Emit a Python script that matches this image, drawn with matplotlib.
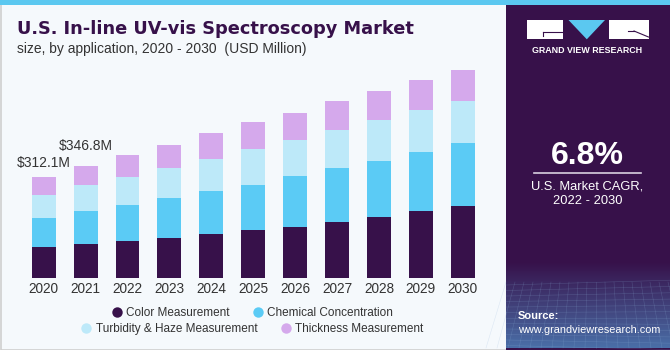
import matplotlib
matplotlib.use("Agg")
import matplotlib.pyplot as plt
import numpy as np
from matplotlib.patches import Rectangle, Polygon
from matplotlib.lines import Line2D

plt.rcParams['font.family'] = ['Liberation Sans', 'DejaVu Sans']

years = ["2020", "2021", "2022", "2023", "2024", "2025", "2026", "2027", "2028", "2029", "2030"]
series_names = ["Color Measurement", "Chemical Concentration",
                "Turbidity & Haze Measurement", "Thickness Measurement"]
color_meas = [95.2, 106.0, 114.9, 123.2, 135.5, 147.8, 158.9, 174.3, 188.8, 207.3, 222.7]
chemical = [91.0, 101.0, 110.9, 123.2, 132.4, 140.4, 155.2, 164.5, 173.4, 182.6, 193.1]
turbidity = [69.7, 80.3, 86.2, 92.4, 99.5, 110.0, 111.8, 118.0, 125.4, 128.4, 130.3]
thickness = [56.2, 59.5, 67.8, 70.8, 79.2, 82.2, 84.1, 89.3, 90.2, 92.4, 96.4]
annotations = {0: "$312.1M", 1: "$346.8M"}
cagr_value = "6.8%"
cagr_label = "U.S. Market CAGR,\n2022 - 2030"

colors = ["#37114A", "#5BCBF5", "#BDE9F9", "#D5A9EC"]
dark = "#37114A"

fig = plt.figure(figsize=(6.7, 3.5), dpi=100)

# background layer in pixel coordinates
bg = fig.add_axes([0, 0, 1, 1], zorder=0)
bg.axis("off")
bg.add_patch(Rectangle((0, 0), 670, 350, facecolor="#F5F9FC", edgecolor="none"))
bg.add_patch(Rectangle((0.5, 0.5), 669, 349, facecolor="none", edgecolor="#CFCFCF", lw=1.2))
# right panel
bg.add_patch(Rectangle((506, 5), 164, 345, facecolor=dark, edgecolor="none"))
# bottom gradient on the panel
grad = np.linspace(0, 1, 100).reshape(-1, 1)
c0 = np.array(matplotlib.colors.to_rgb(dark))
c1 = np.array(matplotlib.colors.to_rgb("#4A6FA8"))
img = (c0[None, None, :] * (1 - grad[..., None]) + c1[None, None, :] * grad[..., None])
bg.imshow(img, extent=(506, 670, 348, 262), aspect="auto", zorder=1)
# faint mesh lines
for k in range(12):
    yy = 285 + k * 5.5
    bg.plot([506, 670], [yy, yy + (k - 6) * 0.8], color="#8FB4DA", lw=0.4, alpha=0.25, zorder=2)
for k in range(20):
    xx = 506 + k * 9
    bg.plot([xx, xx + (k - 10) * 2], [282, 348], color="#8FB4DA", lw=0.4, alpha=0.25, zorder=2)
# top blue line
bg.add_patch(Rectangle((0, 0), 670, 5, facecolor="#5BC8F0", edgecolor="none", zorder=3))

# logo
bg.add_patch(Rectangle((527, 20), 36, 19, facecolor="white", edgecolor="none", zorder=3))
bg.plot([543, 563], [31.5, 31.5], color=dark, lw=0.8, zorder=4)
bg.plot([543, 543], [31.5, 35.5], color=dark, lw=0.8, zorder=4)
bg.add_patch(Polygon([(568.5, 20), (605, 20), (586.8, 39.3)], closed=True,
                     facecolor="#5BC8F0", edgecolor="none", zorder=3))
bg.add_patch(Rectangle((608.5, 20), 40, 19, facecolor="white", edgecolor="none", zorder=3))
bg.plot([634, 648.5], [31, 37], color=dark, lw=0.8, zorder=4)
bg.plot([628, 634], [31, 31], color=dark, lw=0.8, zorder=4)
bg.text(587.5, 50.5, "GRAND VIEW RESEARCH", color="white", fontsize=6.4,
        fontweight="bold", ha="center", va="center", zorder=4)

# CAGR
bg.text(587.5, 156, cagr_value, color="white", fontsize=23, fontweight="bold",
        ha="center", va="center", zorder=4)
bg.plot([534, 641], [173, 173], color="#D8D0E0", lw=1.2, zorder=4)
bg.text(587.5, 194, cagr_label, color="white", fontsize=9.3, ha="center",
        va="center", linespacing=1.25, zorder=4)
bg.text(518, 316, "Source:", color="white", fontsize=8.0, fontweight="bold",
        ha="left", va="center", zorder=4)
bg.text(518, 330, "www.grandviewresearch.com", color="white", fontsize=7.8,
        ha="left", va="center", zorder=4)

# title
bg.text(17, 28.5, "U.S. In-line UV-vis Spectroscopy Market", color=dark,
        fontsize=12.8, fontweight="bold", family=["DejaVu Sans"], ha="left", va="center", zorder=4)
bg.text(17, 49.5, "size, by application, 2020 - 2030  (USD Million)", color="#333333",
        fontsize=10, ha="left", va="center", zorder=4)

bg.set_xlim(0, 670)
bg.set_ylim(350, 0)

# chart axes
base_px = 278.3
top_px = 60
ax = fig.add_axes([22.75 / 670, (350 - base_px) / 350, 461 / 670, (base_px - top_px) / 350], zorder=2)
ax.set_facecolor("none")
x = np.arange(len(years))
data = [color_meas, chemical, turbidity, thickness]
bottom = np.zeros(len(years))
for vals, col, name in zip(data, colors, series_names):
    ax.bar(x, vals, width=0.57, bottom=bottom, color=col, label=name, linewidth=0)
    bottom += np.array(vals)
ax.set_xlim(-0.5, 10.5)
ax.set_ylim(0, (base_px - top_px) * 3.08)
ax.set_xticks(x)
ax.set_xticklabels(years, fontsize=9.8, color="#333333")
ax.tick_params(axis="x", length=0, pad=3)
ax.set_yticks([])
for s in ax.spines.values():
    s.set_visible(False)

offsets = {0: 5, 1: 9.5}
for i, txt in annotations.items():
    ax.annotate(txt, (x[i], bottom[i]), xytext=(0, offsets[i]), textcoords="offset points",
                ha="center", va="bottom", fontsize=10, color="#333333")

# legends (two centered rows)
handles = [Line2D([0], [0], marker="o", color="none", markerfacecolor=c, markeredgecolor="none",
                  markersize=7.5) for c in colors]
cx = 252 / 670
for hs, ls, yc in [(handles[:2], series_names[:2], 312.7), (handles[2:], series_names[2:], 328.7)]:
    fig.legend(hs, ls, loc="center", bbox_to_anchor=(cx, 1 - yc / 350),
               ncol=2, frameon=False, fontsize=8.5, handletextpad=0.3, columnspacing=1.9,
               handlelength=1.0, borderpad=0, labelcolor="#333333")

fig.savefig("out.png", dpi=100)
